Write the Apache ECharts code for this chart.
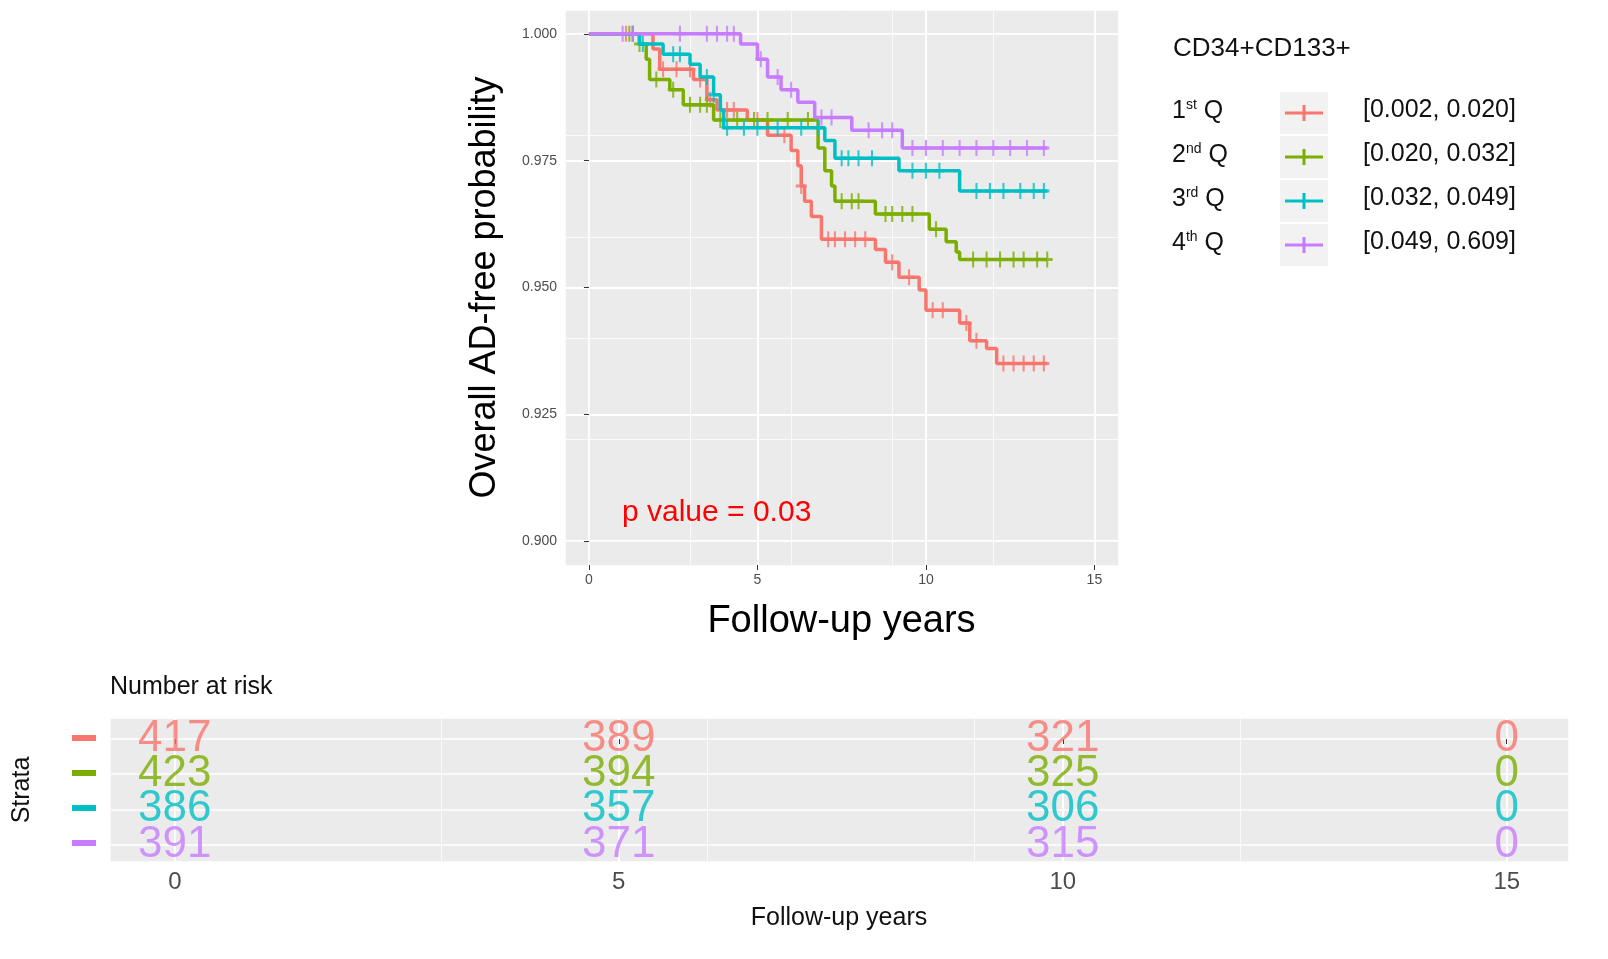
<!DOCTYPE html>
<html><head><meta charset="utf-8">
<script src="https://cdn.jsdelivr.net/npm/echarts@6/dist/echarts.min.js"></script>
<style>html,body{margin:0;background:#fff}#c{width:1608px;height:959px}</style>
</head><body><div id="c"></div>
<script>
const colors = ['#F8766D', '#7CAE00', '#00BFC4', '#C77CFF'];
const groupNames = ['1st Q', '2nd Q', '3rd Q', '4th Q'];
const ranges = ['[0.002, 0.020]', '[0.020, 0.032]', '[0.032, 0.049]', '[0.049, 0.609]'];
// step points [time, survival]
const q1 = [[0,1],[1.9,0.997],[2.1,0.993],[3.1,0.991],[3.5,0.987],[3.8,0.985],[4.7,0.983],[5.3,0.980],[6.0,0.977],[6.2,0.974],[6.3,0.970],[6.4,0.967],[6.6,0.964],[6.9,0.9595],[8.5,0.9575],[8.8,0.955],[9.2,0.952],[9.8,0.9495],[10.0,0.9455],[11.0,0.943],[11.3,0.9395],[11.8,0.938],[12.1,0.935],[13.6,0.935]];
const q2 = [[0,1],[1.5,0.998],[1.7,0.995],[1.8,0.991],[2.4,0.989],[2.8,0.986],[3.7,0.983],[6.8,0.9775],[7.0,0.973],[7.2,0.970],[7.3,0.967],[8.5,0.9645],[10.1,0.9615],[10.6,0.959],[10.9,0.957],[11.0,0.9555],[13.6,0.9555]];
const q3 = [[0,1],[1.5,0.998],[2.2,0.996],[3.0,0.994],[3.3,0.9915],[3.7,0.988],[3.9,0.985],[4.0,0.9815],[7.0,0.979],[7.3,0.9755],[9.2,0.973],[11.0,0.969],[13.6,0.969]];
const q4 = [[0,1],[4.5,0.998],[5.0,0.995],[5.3,0.9915],[5.7,0.989],[6.2,0.9865],[6.7,0.9835],[7.8,0.981],[9.3,0.9775],[13.6,0.9775]];
const curves = [q1, q2, q3, q4];
// censoring times
const cens1 = [1.1,1.3,2.2,2.6,3.0,3.3,3.6,4.1,4.3,5.0,5.8,6.3,7.1,7.3,7.6,7.9,8.2,9.0,9.5,10.2,10.5,11.2,11.5,12.3,12.6,12.9,13.2,13.5];
const cens2 = [1.2,1.5,2.0,2.5,3.0,3.3,3.5,3.9,4.4,4.9,5.3,5.9,6.5,7.5,7.8,8.0,8.8,9.0,9.3,9.6,10.3,11.4,11.8,12.2,12.6,12.9,13.3,13.6];
const cens3 = [1.3,1.6,2.5,2.7,3.5,3.7,4.1,4.6,5.0,5.6,6.3,6.8,7.5,7.7,8.0,8.4,9.6,10.0,10.4,11.5,11.9,12.3,12.8,13.2,13.5];
const cens4 = [1.0,1.3,2.7,3.5,3.8,4.1,4.3,5.1,5.6,6.0,6.9,7.2,8.3,8.7,9.0,9.6,10.0,10.5,11.0,11.5,12.0,12.5,13.0,13.5];
const censors = [cens1, cens2, cens3, cens4];
const riskTimes = [0, 5, 10, 15];
const risk = [[417,389,321,0],[423,394,325,0],[386,357,306,0],[391,371,315,0]];
const xTicks = [0, 5, 10, 15];
const xMinor = [2.5, 7.5, 12.5];
const yTicks = [0.900, 0.925, 0.950, 0.975, 1.000];
const yMinor = [0.9125, 0.9375, 0.9625, 0.9875];

function survAt(curve, t) { let v = curve[0][1]; for (const p of curve) if (p[0] <= t) v = p[1]; return v; }
const plusPath = 'path://M0,5L10,5M5,0L5,10';

const series = [];
curves.forEach((c, i) => {
  series.push({type:'line', step:'end', data:c, showSymbol:false, lineStyle:{color:colors[i], width:3.5}, z:2+i, silent:true});
  series.push({type:'scatter', data:censors[i].map(t => [t, survAt(c, t)]), symbol:plusPath, symbolSize:[11,16],
    itemStyle:{color:'none', borderColor:colors[i], borderWidth:2.5}, z:2+i, silent:true});
});
curves.forEach((c, i) => {
  series.push({type:'scatter', xAxisIndex:1, yAxisIndex:1, symbolSize:0,
    data: riskTimes.map((t, j) => [t, i, risk[i][j]]),
    label:{show:true, formatter:p => p.value[2], color:colors[i], fontSize:44, fontFamily:'Liberation Sans', position:'inside'}});
});

// minor grid lines as extra axes with no labels
const sup = ['st','nd','rd','th'];
const g = [{type:'text', left:1173, top:36, style:{text:'CD34+CD133+', fontSize:26, fontFamily:'Liberation Sans', fill:'#111'}}];
groupNames.forEach((n, i) => {
  const y = 113 + i * 44;
  g.push({type:'text', left:1172, top:y-15, style:{rich:{a:{fontSize:25, fontFamily:'Liberation Sans', fill:'#111'}, s:{fontSize:14, fontFamily:'Liberation Sans', fill:'#111', verticalAlign:'top', padding:[0,0,12,0]}}, text:'{a|' + (i+1) + '}{s|' + sup[i] + '}{a| Q}'}});
  g.push({type:'rect', shape:{x:1280, y:y-21, width:48, height:42}, style:{fill:'#f2f2f2'}});
  g.push({type:'line', shape:{x1:1285, y1:y, x2:1323, y2:y}, style:{stroke:colors[i], lineWidth:3}});
  g.push({type:'line', shape:{x1:1304, y1:y-8, x2:1304, y2:y+8}, style:{stroke:colors[i], lineWidth:3}});
  g.push({type:'text', left:1363, top:y-15, style:{text:ranges[i], fontSize:25, fontFamily:'Liberation Sans', fill:'#111'}});
  g.push({type:'rect', shape:{x:72, y:735 + i*35, width:24, height:6}, style:{fill:colors[i]}});
});
g.push({type:'text', left:622, top:498, z:100, style:{text:'p value = 0.03', fontSize:30, fontFamily:'Liberation Sans', fill:'#ff0000'}});
g.push({type:'text', left:110, top:675, style:{text:'Number at risk', fontSize:25, fontFamily:'Liberation Sans', fill:'#111'}});

function minorAxis(dim, gi, min, max, vals) {
  return {type:'value', gridIndex:gi, min:min, max:max, show:true, axisLine:{show:false}, axisTick:{show:false}, axisLabel:{show:false},
    splitLine:{show:true, lineStyle:{color:'#fafafa', width:1}, customValues:vals}};
}

const chart = echarts.init(document.getElementById('c'));
chart.setOption({
  animation:false,
  grid:[
    {left:565, top:10, width:553, height:555, backgroundColor:'#ebebeb', show:true, borderWidth:0},
    {left:110, top:718, width:1458, height:144, backgroundColor:'#ebebeb', show:true, borderWidth:0}
  ],
  xAxis:[
    {type:'value', gridIndex:0, min:-0.71, max:15.7, name:'Follow-up years', nameLocation:'middle', nameGap:38,
      nameTextStyle:{fontSize:38, fontFamily:'Liberation Sans', color:'#000'},
      axisLine:{show:false}, axisTick:{show:true, lineStyle:{color:'#333'}, customValues:xTicks},
      axisLabel:{color:'#4d4d4d', fontSize:14, customValues:xTicks},
      splitLine:{show:true, lineStyle:{color:'#fff', width:2}, customValues:xTicks}},
    {type:'value', gridIndex:1, min:-0.73, max:15.69, name:'Follow-up years', nameLocation:'middle', nameGap:44,
      nameTextStyle:{fontSize:25, fontFamily:'Liberation Sans', color:'#111'},
      axisLine:{show:false}, axisTick:{show:true, lineStyle:{color:'#333'}, customValues:xTicks},
      axisLabel:{color:'#4d4d4d', fontSize:24, customValues:xTicks},
      splitLine:{show:true, lineStyle:{color:'#fff', width:2}, customValues:xTicks}},
    minorAxis('x', 0, -0.71, 15.7, xMinor),
    minorAxis('x', 1, -0.73, 15.69, xMinor)
  ],
  yAxis:[
    {type:'value', gridIndex:0, min:0.8953, max:1.0047, name:'Overall AD-free probability', nameLocation:'middle', nameGap:62,
      nameTextStyle:{fontSize:36, fontFamily:'Liberation Sans', color:'#000'},
      axisLine:{show:false}, axisTick:{show:true, lineStyle:{color:'#333'}, customValues:yTicks},
      axisLabel:{color:'#4d4d4d', fontSize:14, formatter:v => v.toFixed(3), customValues:yTicks},
      splitLine:{show:true, lineStyle:{color:'#fff', width:2}, customValues:yTicks}},
    {type:'value', gridIndex:1, min:-0.6, max:3.5, inverse:true, name:'Strata', nameLocation:'middle', nameGap:75,
      nameTextStyle:{fontSize:25, fontFamily:'Liberation Sans', color:'#111'},
      axisLine:{show:false}, axisTick:{show:false}, axisLabel:{show:false},
      splitLine:{show:true, lineStyle:{color:'#fff', width:1.5}, customValues:[0.5,1.5,2.5]}},
    minorAxis('y', 0, 0.8953, 1.0047, yMinor)
  ],
  graphic: g,
  series: series
});
</script></body></html>
